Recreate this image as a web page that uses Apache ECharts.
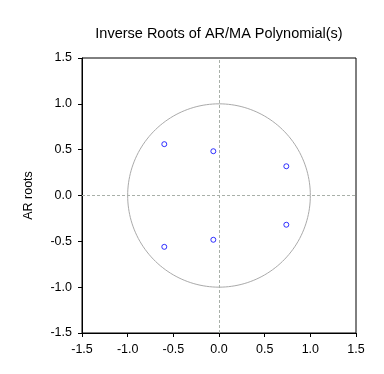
<!DOCTYPE html>
<html>
<head>
<meta charset="utf-8">
<script src="https://cdn.jsdelivr.net/npm/echarts@6/dist/echarts.min.js"></script>
<style>html,body{margin:0;padding:0;background:#fff}#c{width:384px;height:374px}</style>
</head>
<body>
<div id="c"></div>
<script>
var rootsRe = [-0.599, -0.062, 0.737, 0.737, -0.062, -0.599];
var rootsIm = [0.560, 0.483, 0.319, -0.319, -0.483, -0.560];
var axisTicks = [-1.5, -1.0, -0.5, 0.0, 0.5, 1.0, 1.5];

var pts = rootsRe.map(function (r, i) { return [r, rootsIm[i]]; });
var circle = [];
for (var a = 0; a <= 360; a += 2) {
  var t = a * Math.PI / 180;
  circle.push([Math.cos(t), Math.sin(t)]);
}
var font = 'Liberation Sans, Arial, sans-serif';
var chart = echarts.init(document.getElementById('c'));
function axisCfg(margin, extra) {
  var o = {
    type: 'value',
    min: axisTicks[0], max: axisTicks[axisTicks.length - 1], interval: 0.5,
    axisLine: { show: true, onZero: false, lineStyle: { color: '#000', width: 1 } },
    axisTick: { show: true, inside: false, length: 4, lineStyle: { color: '#000' } },
    axisLabel: { color: '#000', fontSize: 12.5, fontFamily: font, margin: margin, formatter: function (v) { return v.toFixed(1); } },
    splitLine: { show: false }
  };
  for (var k in extra) o[k] = extra[k];
  return o;
}
chart.setOption({
  animation: false,
  backgroundColor: '#fff',
  title: {
    text: 'Inverse Roots of AR/MA Polynomial(s)',
    left: 214, top: 21, textAlign: 'center',
    textStyle: { fontSize: 14.5, fontWeight: 'normal', color: '#000', fontFamily: font }
  },
  grid: { left: 82, top: 58, width: 274, height: 275, show: true, borderColor: '#000', borderWidth: 1, backgroundColor: 'transparent' },
  xAxis: axisCfg(10, {}),
  yAxis: axisCfg(10, {
    name: 'AR roots', nameLocation: 'middle', nameGap: 47,
    nameTextStyle: { color: '#000', fontSize: 12.5, fontFamily: font }
  }),
  series: [
    {
      type: 'line', data: circle, showSymbol: false, symbol: 'none', smooth: false,
      lineStyle: { color: '#aaaaaa', width: 1 }, silent: true, z: 1,
      markLine: {
        silent: true, symbol: 'none', label: { show: false },
        lineStyle: { color: '#a9b0a9', type: [3, 2], width: 1 },
        data: [{ xAxis: 0 }, { yAxis: 0 }]
      }
    },
    {
      type: 'scatter', data: pts, symbol: 'circle', symbolSize: 5,
      itemStyle: { color: '#ffffff', borderColor: '#0000ff', borderWidth: 1 }, z: 3
    }
  ]
});
</script>
</body>
</html>
